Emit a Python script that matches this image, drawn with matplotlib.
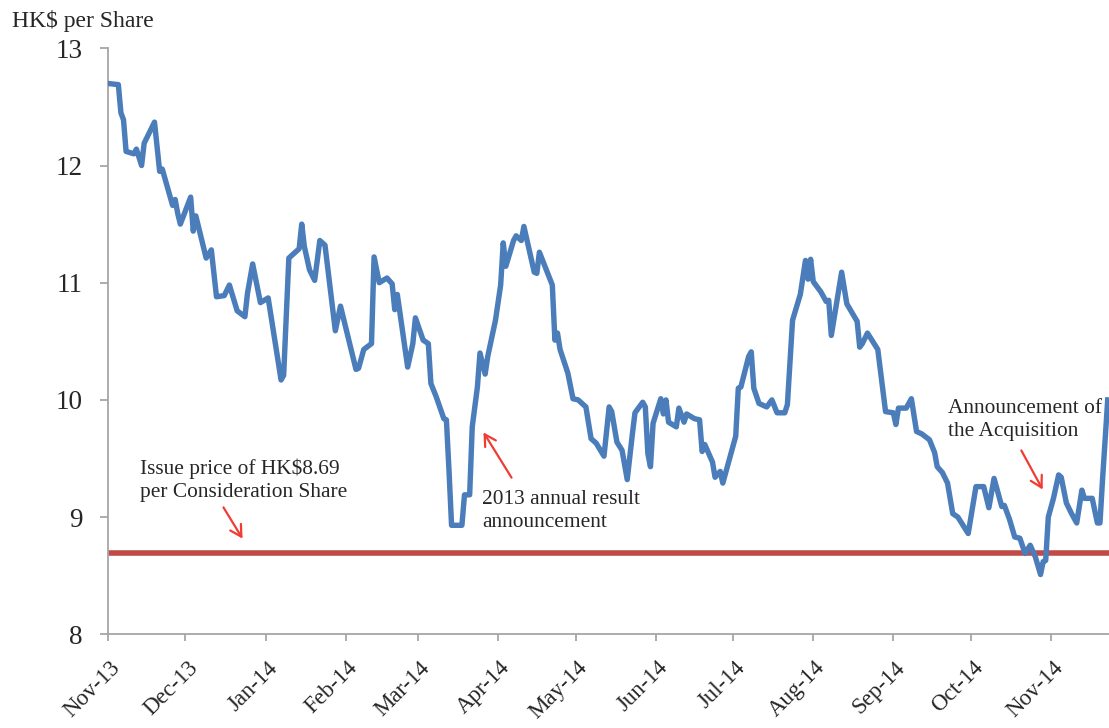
import matplotlib
matplotlib.use("Agg")
import matplotlib.pyplot as plt
import matplotlib.dates as mdates
import matplotlib.transforms as mtransforms
import pandas as pd

# closing price (turning points of the line)
dates = [
    "2013-11-01", "2013-11-05", "2013-11-06", "2013-11-07", "2013-11-08", "2013-11-11",
    "2013-11-12", "2013-11-14", "2013-11-15", "2013-11-19", "2013-11-21", "2013-11-22",
    "2013-11-26", "2013-11-27", "2013-11-28", "2013-11-29", "2013-12-03", "2013-12-04",
    "2013-12-05", "2013-12-09", "2013-12-11", "2013-12-13", "2013-12-16", "2013-12-18",
    "2013-12-21", "2013-12-24", "2013-12-25", "2013-12-27", "2013-12-30", "2014-01-02",
    "2014-01-07", "2014-01-08", "2014-01-10", "2014-01-14", "2014-01-15", "2014-01-16",
    "2014-01-18", "2014-01-20", "2014-01-22", "2014-01-24", "2014-01-28", "2014-01-30",
    "2014-02-05", "2014-02-06", "2014-02-08", "2014-02-11", "2014-02-12", "2014-02-14",
    "2014-02-17", "2014-02-19", "2014-02-20", "2014-02-21", "2014-02-25", "2014-02-27",
    "2014-02-28", "2014-03-03", "2014-03-05", "2014-03-06", "2014-03-08", "2014-03-11",
    "2014-03-12", "2014-03-13", "2014-03-14", "2014-03-18", "2014-03-19", "2014-03-21",
    "2014-03-22", "2014-03-24", "2014-03-25", "2014-03-27", "2014-03-28", "2014-03-31",
    "2014-04-02", "2014-04-03", "2014-04-04", "2014-04-07", "2014-04-08", "2014-04-10",
    "2014-04-11", "2014-04-15", "2014-04-16", "2014-04-17", "2014-04-22", "2014-04-23",
    "2014-04-24", "2014-04-25", "2014-04-28", "2014-04-30", "2014-05-02", "2014-05-05",
    "2014-05-07", "2014-05-09", "2014-05-12", "2014-05-14", "2014-05-15", "2014-05-17",
    "2014-05-19", "2014-05-21", "2014-05-23", "2014-05-24", "2014-05-27", "2014-05-28",
    "2014-05-29", "2014-05-30", "2014-05-31", "2014-06-03", "2014-06-04", "2014-06-05",
    "2014-06-06", "2014-06-09", "2014-06-10", "2014-06-12", "2014-06-13", "2014-06-16",
    "2014-06-18", "2014-06-19", "2014-06-20", "2014-06-23", "2014-06-24", "2014-06-26",
    "2014-06-27", "2014-07-02", "2014-07-03", "2014-07-04", "2014-07-07", "2014-07-08",
    "2014-07-09", "2014-07-11", "2014-07-14", "2014-07-16", "2014-07-18", "2014-07-21",
    "2014-07-22", "2014-07-24", "2014-07-27", "2014-07-29", "2014-07-30", "2014-07-31",
    "2014-08-01", "2014-08-04", "2014-08-06", "2014-08-07", "2014-08-08", "2014-08-12",
    "2014-08-14", "2014-08-18", "2014-08-19", "2014-08-20", "2014-08-22", "2014-08-26",
    "2014-08-29", "2014-09-01", "2014-09-02", "2014-09-03", "2014-09-06", "2014-09-08",
    "2014-09-10", "2014-09-12", "2014-09-15", "2014-09-17", "2014-09-18", "2014-09-20",
    "2014-09-22", "2014-09-24", "2014-09-26", "2014-09-30", "2014-10-03", "2014-10-06",
    "2014-10-08", "2014-10-10", "2014-10-13", "2014-10-14", "2014-10-16", "2014-10-18",
    "2014-10-20", "2014-10-22", "2014-10-24", "2014-10-26", "2014-10-28", "2014-10-29",
    "2014-10-30", "2014-10-31", "2014-11-02", "2014-11-04", "2014-11-05", "2014-11-07",
    "2014-11-09", "2014-11-11", "2014-11-13", "2014-11-14", "2014-11-17", "2014-11-19",
    "2014-11-20", "2014-11-21", "2014-11-23",
]
price = [
    12.70, 12.69, 12.45, 12.39, 12.12, 12.10,
    12.14, 12.00, 12.19, 12.37, 11.95, 11.97,
    11.66, 11.71, 11.59, 11.50, 11.73, 11.44,
    11.57, 11.21, 11.28, 10.88, 10.89, 10.98,
    10.76, 10.71, 10.91, 11.16, 10.83, 10.87,
    10.17, 10.21, 11.21, 11.29, 11.50, 11.31,
    11.11, 11.02, 11.36, 11.32, 10.59, 10.80,
    10.26, 10.27, 10.43, 10.48, 11.22, 11.00,
    11.04, 10.99, 10.77, 10.90, 10.28, 10.48,
    10.70, 10.51, 10.48, 10.14, 10.03, 9.84,
    9.83, 9.40, 8.93, 8.93, 9.19, 9.19,
    9.77, 10.11, 10.40, 10.22, 10.37, 10.68,
    10.98, 11.34, 11.14, 11.36, 11.40, 11.36,
    11.48, 11.09, 11.08, 11.26, 10.98, 10.51,
    10.57, 10.43, 10.23, 10.01, 10.00, 9.94,
    9.67, 9.63, 9.52, 9.94, 9.90, 9.64,
    9.57, 9.32, 9.71, 9.89, 9.98, 9.94,
    9.54, 9.43, 9.80, 10.01, 9.88, 10.00,
    9.81, 9.77, 9.93, 9.81, 9.88, 9.84,
    9.83, 9.56, 9.62, 9.47, 9.34, 9.39,
    9.29, 9.69, 10.10, 10.11, 10.37, 10.41,
    10.10, 9.97, 9.94, 10.00, 9.89, 9.89,
    9.96, 10.68, 10.90, 11.19, 11.03, 11.20,
    11.01, 10.92, 10.84, 10.85, 10.55, 11.09,
    10.82, 10.67, 10.45, 10.48, 10.57, 10.43,
    9.90, 9.89, 9.79, 9.93, 9.93, 10.01,
    9.73, 9.71, 9.66, 9.55, 9.43, 9.38,
    9.29, 9.03, 9.00, 8.86, 9.26, 9.26,
    9.08, 9.33, 9.09, 9.10, 8.98, 8.83,
    8.82, 8.69, 8.76, 8.66, 8.51, 8.62,
    8.63, 9.00, 9.16, 9.36, 9.34, 9.12,
    9.03, 8.95, 9.23, 9.16, 9.16, 8.95,
    8.95, 9.32, 10.00,
]
issue_price = 8.69

df = pd.DataFrame({"date": pd.to_datetime(dates), "price": price}).set_index("date")

plt.rcParams['font.family'] = ['Liberation Serif', 'DejaVu Serif']
txt_color = '#262626'
grey = '#a6a6a6'

W, H = 1109, 728
fig = plt.figure(figsize=(W / 100, H / 100), dpi=100)
# axes box in pixels: left 108, top 48.3 (=13), bottom 634.3 (=8), runs to the right edge
ax = fig.add_axes([108 / W, 1 - 634.3 / H, 1 - 108 / W, (634.3 - 48.3) / H])

def px(x, y):
    # pixel position (from top left) -> figure fraction
    return x / W, 1 - y / H

ax.axhline(issue_price, color='#be4b48', lw=4, zorder=2)
ax.plot(df.index, df['price'], color='#4a7dba', lw=3.9, solid_joinstyle='round', zorder=3)

ax.set_ylim(8, 13)
ax.set_xlim(pd.Timestamp('2013-11-01'), pd.Timestamp('2014-11-23 12:00'))
ax.set_yticks([8, 9, 10, 11, 12, 13])

ax.xaxis.set_major_locator(mdates.MonthLocator())
ax.xaxis.set_major_formatter(mdates.DateFormatter('%b-%y'))

for s in ['top', 'right']:
    ax.spines[s].set_visible(False)
for s in ['left', 'bottom']:
    ax.spines[s].set_color(grey)
    ax.spines[s].set_linewidth(1.3)

ax.tick_params(axis='y', direction='out', length=6, width=1.3, color=grey,
               labelsize=19.5, labelcolor=txt_color, pad=12)
ax.tick_params(axis='x', direction='out', length=5, width=1.3, color=grey,
               labelsize=16.5, labelcolor=txt_color, pad=6)

# labels sit a little below the axis, slanted, right end just past the tick
offset = mtransforms.ScaledTranslation(9 / 100, -15 / 100, fig.dpi_scale_trans)
for lab in ax.get_xticklabels():
    lab.set_rotation(45)
    lab.set_ha('right')
    lab.set_va('center')
    lab.set_rotation_mode('anchor')
    lab.set_transform(lab.get_transform() + offset)

fig.text(*px(12, 27), 'HK$ per Share', fontsize=17, color=txt_color, va='baseline')

fig.text(*px(140, 480), 'Issue price of HK$8.69\nper Consideration Share', fontsize=15.4,
         color=txt_color, va='center', linespacing=1.3)
fig.text(*px(482, 511), '2013 annual result\nannouncement', fontsize=15.4,
         color=txt_color, va='center', linespacing=1.3)
fig.text(*px(948, 420), 'Announcement of\nthe Acquisition', fontsize=15.4,
         color=txt_color, va='center', linespacing=1.3)

arrow = dict(arrowstyle='->,head_length=0.8,head_width=0.45', color='#f03c32', lw=1.6)
ax.annotate('', xy=px(244, 541), xytext=px(222, 505), xycoords='figure fraction',
            textcoords='figure fraction', arrowprops=arrow)
ax.annotate('', xy=px(482, 430), xytext=px(513, 480), xycoords='figure fraction',
            textcoords='figure fraction', arrowprops=arrow)
ax.annotate('', xy=px(1044, 492), xytext=px(1020, 448), xycoords='figure fraction',
            textcoords='figure fraction', arrowprops=arrow)

plt.savefig('out.png', dpi=100)
